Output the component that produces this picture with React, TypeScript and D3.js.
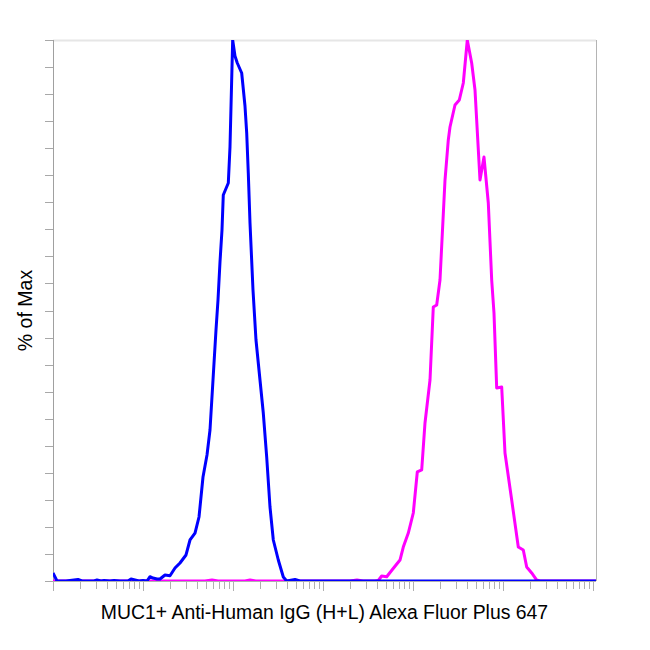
import React from "react";
import * as d3 from "d3";

// Fluorescence intensity (log scale) and % of Max
const blueX = [1, 1.108, 1.394, 1.896, 2.1, 2.855, 3.08, 3.415, 3.687, 4.3, 4.76, 5.55, 6.81, 7.36, 8.15, 9.03, 10, 11.08, 11.96, 12.92, 14.31, 15.45, 17.56, 19.95, 22.68, 25.77, 30.05, 33.29, 37.84, 41.91, 46.42, 51.42, 55.52, 59.95, 64.73, 68.13, 71.7, 75.47, 78.0, 88.7, 92.6, 99.2, 105.2, 111.6, 124.9, 135.9, 142.0, 147.9, 154.5, 166.8, 180.1, 199.5, 217.1, 236.8, 257.7, 280.5, 318.7, 362.2, 395.1, 488.6, 555, 1.08e6];
const blueY = [1.48, 0, 0, 0.28, 0, 0, 0.18, 0, 0.09, 0, 0.09, 0, 0, 0.37, 0.18, 0, 0.09, 0, 0.79, 0.55, 0.37, 0.37, 1.11, 0.98, 2.4, 3.33, 4.81, 7.58, 8.87, 11.83, 19.22, 23.29, 27.91, 37.15, 46.4, 51.94, 58.96, 64.88, 71.35, 73.57, 80.22, 100, 97.04, 95.75, 93.9, 87.8, 82.81, 75.42, 66.17, 53.79, 44.55, 37.15, 31.05, 22.92, 13.68, 7.58, 3.88, 0.74, 0, 0.28, 0, 0];

const magentaX = [1, 48.87, 58.44, 68.13, 135.9, 154.5, 180.1, 1995, 2387, 2783, 3784, 4116, 4489, 5104, 5845, 6473, 7171, 7801, 8868, 10077, 11163, 12494, 13594, 15452, 16811, 18338, 19953, 22680, 24675, 25770, 29286, 32699, 36224, 40117, 44888, 48865, 55517, 61500, 68675, 74886, 79433, 85114, 96738, 105244, 124939, 147911, 168105, 183348, 208393, 236810, 257710, 1.08e6];
const magentaY = [0, 0, 0.18, 0, 0, 0.18, 0, 0, 0.18, 0, 0, 0.09, 0.92, 0.79, 2.03, 2.96, 3.88, 6.28, 8.87, 12.57, 20.15, 20.52, 29.21, 37.15, 50.65, 51.02, 55.64, 74.12, 81.52, 83.92, 87.99, 88.91, 92.05, 100, 95.75, 90.76, 74.12, 78.37, 69.87, 55.64, 49.54, 35.67, 35.86, 23.66, 14.97, 6.28, 5.73, 2.59, 1.48, 0.18, 0, 0];

const xDomain = [1, 1.08e6];
const yTickValues = d3.range(0, 101, 5);
const xLabel = "MUC1+ Anti-Human IgG (H+L) Alexa Fluor Plus 647";
const yLabel = "% of Max";

export default function App() {
  const left = 53, right = 596, top = 40, bottom = 581;
  const x = d3.scaleLog().domain(xDomain).range([left, right]);
  const y = d3.scaleLinear().domain([0, 100]).range([bottom, top]);

  const line = d3
    .line<[number, number]>()
    .x((d) => x(d[0]))
    .y((d) => y(d[1]));

  const blue: [number, number][] = blueX.map((v, i) => [v, blueY[i]]);
  const magenta: [number, number][] = magentaX.map((v, i) => [v, magentaY[i]]);

  const xTicks: { v: number; major: boolean }[] = [];
  for (let d = 0; d < 6; d++) {
    for (let k = 1; k <= 9; k++) xTicks.push({ v: k * Math.pow(10, d), major: k === 1 });
  }
  xTicks.push({ v: 1e6, major: true });

  const font = "Arial, 'Liberation Sans', Helvetica, sans-serif";

  return (
    <svg
      width={650}
      height={650}
      style={{ position: "absolute", left: 0, top: 0, background: "#fff" }}
    >
      <defs>
        <clipPath id="plot">
          <rect x={left} y={top} width={right - left} height={bottom - top} />
        </clipPath>
      </defs>
      {/* frame */}
      <line x1={left} x2={right} y1={top + 0.5} y2={top + 0.5} stroke="#e6e6e6" strokeWidth={2} />
      <line x1={right + 0.5} x2={right + 0.5} y1={top} y2={bottom} stroke="#b4b4b4" strokeWidth={1} />
      <line x1={left + 0.5} x2={left + 0.5} y1={top} y2={bottom + 10} stroke="#a0a0a0" strokeWidth={1} />
      {/* y ticks */}
      {yTickValues.map((t) => (
        <line
          key={"y" + t}
          x1={left - 8}
          x2={left}
          y1={Math.round(y(t)) + 0.5}
          y2={Math.round(y(t)) + 0.5}
          stroke="#a8a8a8"
          strokeWidth={1}
        />
      ))}
      {/* x ticks */}
      {xTicks.map((t, i) => (
        <line
          key={"x" + i}
          x1={Math.round(x(t.v)) + 0.5}
          x2={Math.round(x(t.v)) + 0.5}
          y1={bottom}
          y2={bottom + (t.major ? 10 : 8)}
          stroke="#b0b0b0"
          strokeWidth={1}
        />
      ))}
      <line x1={left} x2={right} y1={bottom + 0.5} y2={bottom + 0.5} stroke="#b0b0b0" strokeWidth={1} />
      <g clipPath="url(#plot)" fill="none" strokeLinejoin="round">
        <path d={line(magenta) || ""} stroke="#ff00ff" strokeWidth={3} />
        <path d={line(blue) || ""} stroke="#0000ff" strokeWidth={3} />
      </g>
      <text
        x={(left + right) / 2}
        y={619}
        textAnchor="middle"
        fontFamily={font}
        fontSize={19.4}
        fill="#000"
      >
        {xLabel}
      </text>
      <text
        transform={`translate(32, ${(top + bottom) / 2}) rotate(-90)`}
        textAnchor="middle"
        fontFamily={font}
        fontSize={19.5}
        fill="#000"
      >
        {yLabel}
      </text>
    </svg>
  );
}
